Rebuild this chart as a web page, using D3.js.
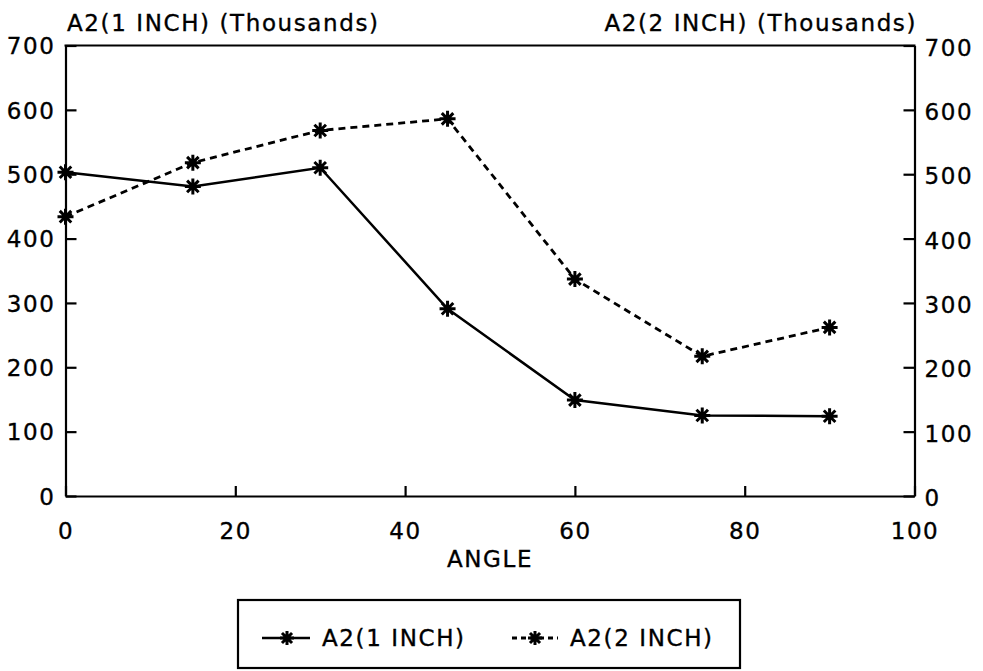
<!DOCTYPE html>
<html>
<head>
<meta charset="utf-8">
<script src="https://cdn.jsdelivr.net/npm/d3@7"></script>
<style>
  html, body { margin: 0; padding: 0; background: #fff; }
  svg text { font-family: "DejaVu Sans", sans-serif; font-size: 23px; letter-spacing: 1.6px; fill: #000; stroke: #000; stroke-width: 0.35px; }
</style>
</head>
<body>
<svg id="chart" width="983" height="671"></svg>
<script>
const angles = [0, 15, 30, 45, 60, 75, 90];
const seriesOneInch = [503, 481, 510, 291, 149, 125, 124];
const seriesTwoInch = [434, 518, 568, 586, 337, 217, 262];
const seriesNames = ["A2(1 INCH)", "A2(2 INCH)"];
const xTicks = [0, 20, 40, 60, 80, 100];
const yTicks = [0, 100, 200, 300, 400, 500, 600, 700];
const leftTitle = "A2(1 INCH) (Thousands)";
const rightTitle = "A2(2 INCH) (Thousands)";
const xTitle = "ANGLE";

const svg = d3.select("#chart");
const L = 65.5, R = 914.5, T = 45.5, B = 496;

const x = d3.scaleLinear().domain([0, 100]).range([L, R]);
const yL = d3.scaleLinear().domain([0, 700]).range([B, T]);
const yR = d3.scaleLinear().domain([0, 700]).range([B, T]);

svg.append("rect").attr("width", 983).attr("height", 671).attr("fill", "#fff");

// axes
const gx = svg.append("g").attr("transform", `translate(0,${B})`)
  .call(d3.axisBottom(x).tickValues(xTicks).tickSizeInner(-10).tickSizeOuter(0).tickPadding(27));
const gl = svg.append("g").attr("transform", `translate(${L},0)`)
  .call(d3.axisLeft(yL).tickValues(yTicks).tickSizeInner(-11).tickSizeOuter(0).tickPadding(10));
const gr = svg.append("g").attr("transform", `translate(${R},0)`)
  .call(d3.axisRight(yR).tickValues(yTicks).tickSizeInner(-11).tickSizeOuter(0).tickPadding(10));
[gx, gl, gr].forEach(g => {
  g.selectAll("path.domain").attr("stroke", "#000").attr("stroke-width", 2.2);
  g.selectAll(".tick line").attr("stroke", "#000").attr("stroke-width", 2.2);
  g.selectAll(".tick text").attr("font-family", null).attr("font-size", null).attr("fill", "#000");
});
gl.selectAll(".tick text").attr("dy", "0.36em");
gr.selectAll(".tick text").attr("dy", "0.42em");

// frame top
svg.append("line").attr("x1", L - 1).attr("x2", R + 1).attr("y1", T).attr("y2", T)
  .attr("stroke", "#000").attr("stroke-width", 2.2);

// titles
svg.append("text").attr("x", 67).attr("y", 31).text(leftTitle);
svg.append("text").attr("x", 917).attr("y", 31).attr("text-anchor", "end").text(rightTitle);
svg.append("text").attr("x", (L + R) / 2).attr("y", 567).attr("text-anchor", "middle").text(xTitle);

// star marker
function star(g, cx, cy, r) {
  const d = r * 0.72;
  const p = `M${cx - r},${cy}L${cx + r},${cy}M${cx},${cy - r}L${cx},${cy + r}` +
            `M${cx - d},${cy - d}L${cx + d},${cy + d}M${cx - d},${cy + d}L${cx + d},${cy - d}`;
  g.append("path").attr("d", p).attr("stroke", "#000").attr("stroke-width", 3).attr("fill", "none");
}

const data1 = angles.map((a, i) => [a, seriesOneInch[i]]);
const data2 = angles.map((a, i) => [a, seriesTwoInch[i]]);

const line1 = d3.line().x(d => x(d[0])).y(d => yL(d[1]));
const line2 = d3.line().x(d => x(d[0])).y(d => yR(d[1]));

svg.append("path").datum(data1).attr("d", line1)
  .attr("fill", "none").attr("stroke", "#000").attr("stroke-width", 2.5);
svg.append("path").datum(data2).attr("d", line2)
  .attr("fill", "none").attr("stroke", "#000").attr("stroke-width", 2.8).attr("stroke-dasharray", "7,5");

const mk = svg.append("g");
data1.forEach(d => star(mk, x(d[0]), yL(d[1]), 8));
data2.forEach(d => star(mk, x(d[0]), yR(d[1]), 8));

// legend
const lg = svg.append("g");
lg.append("rect").attr("x", 238).attr("y", 600).attr("width", 502).attr("height", 68)
  .attr("fill", "none").attr("stroke", "#000").attr("stroke-width", 2.2);
const ly = 638;
lg.append("line").attr("x1", 262).attr("x2", 310).attr("y1", ly).attr("y2", ly)
  .attr("stroke", "#000").attr("stroke-width", 2.5);
star(lg, 287, ly, 7);
lg.append("text").attr("x", 322).attr("y", ly + 8).text(seriesNames[0]);
lg.append("line").attr("x1", 512).attr("x2", 558).attr("y1", ly).attr("y2", ly)
  .attr("stroke", "#000").attr("stroke-width", 2.8).attr("stroke-dasharray", "5,4");
star(lg, 535, ly, 7);
lg.append("text").attr("x", 570).attr("y", ly + 8).text(seriesNames[1]);
</script>
</body>
</html>
